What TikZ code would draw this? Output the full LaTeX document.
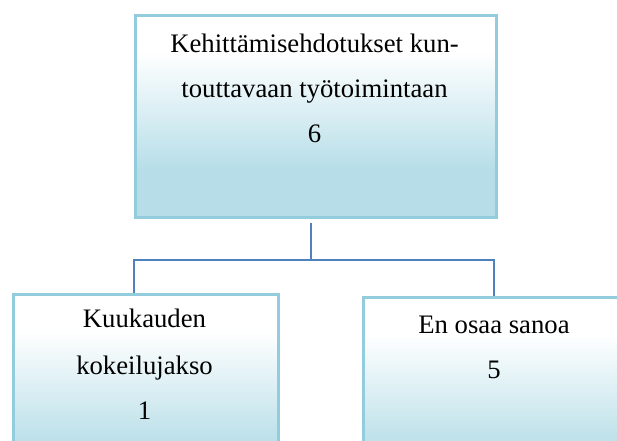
\documentclass[tikz,border=0pt]{standalone}
\usepackage{fontspec}
\setmainfont{Liberation Serif}
\definecolor{boxborder}{HTML}{93CDDD}
\definecolor{boxblue}{HTML}{B7DEE8}
\definecolor{connblue}{HTML}{4F81BD}
\pgfdeclareverticalshading{boxshade}{100bp}{color(0bp)=(boxblue); color(37bp)=(boxblue); color(66bp)=(white); color(100bp)=(white)}
\begin{document}
\begin{tikzpicture}[x=1pt,y=1pt,
  box/.style={draw=boxborder, line width=3pt, shading=boxshade, rectangle, inner sep=0pt},
  lbl/.style={anchor=base, inner sep=0pt, font=\fontsize{26.7}{32}\selectfont},
  conn/.style={draw=connblue, line width=2pt}]
\useasboundingbox (0,0) rectangle (617,-440);
% boxes
\node[box, minimum width=361pt, minimum height=202pt, anchor=north west] (top) at (134,-14) {};
\node[box, minimum width=265pt, minimum height=202pt, anchor=north west] (left) at (12,-293) {};
\node[box, minimum width=264pt, minimum height=202pt, anchor=north west] (right) at (362,-296) {};
% texts
\node[lbl] (ta) at (314.5,-52) {Kehittämisehdotukset kun-};
\node[lbl] (tb) at (314.5,-97) {touttavaan työtoimintaan};
\node[lbl] (tc) at (314.5,-142) {6};
\node[lbl] (la1) at (144.5,-327) {Kuukauden};
\node[lbl] (la2) at (144.5,-374) {kokeilujakso};
\node[lbl] (la3) at (144.5,-419) {1};
\node[lbl] (ra1) at (494,-333) {En osaa sanoa};
\node[lbl] (ra2) at (494,-378) {5};
% connectors
\coordinate (jt) at (311,-223);
\coordinate (jb) at (311,-260);
\coordinate (lj) at (134,-260);
\coordinate (rj) at (494,-260);
\draw[conn] (jt) -- (jb);
\draw[conn] (left.north -| lj) -- (lj) -- (rj) -- (right.north -| rj);
\end{tikzpicture}
\end{document}
